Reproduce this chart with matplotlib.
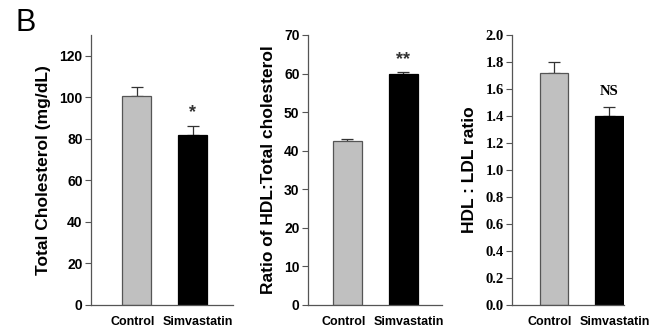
import numpy as np
import matplotlib
matplotlib.use("Agg")
import matplotlib.pyplot as plt

# data
groups = ["Control", "Simvastatin"]
total_chol = [100.5, 82.0]
total_chol_err = [4.5, 4.0]
hdl_ratio = [42.5, 60.0]
hdl_ratio_err = [0.4, 0.3]
hdl_ldl = [1.72, 1.40]
hdl_ldl_err = [0.08, 0.07]
marks = ["*", "**", "NS"]

bar_colors = ["#c0c0c0", "#000000"]
edge_colors = ["#555555", "#000000"]

plt.rcParams["font.family"] = ["Liberation Sans", "DejaVu Sans"]
plt.rcParams["font.weight"] = "bold"

fig = plt.figure(figsize=(6.55, 3.3), dpi=100)

bottom, height = 0.076, 0.818
ax1 = fig.add_axes([0.139, bottom, 0.217, height])
ax2 = fig.add_axes([0.470, bottom, 0.205, height])
ax3 = fig.add_axes([0.782, bottom, 0.171, height])

panels = [
    (ax1, total_chol, total_chol_err, "Total Cholesterol (mg/dL)", (0, 130), np.arange(0, 121, 20), (-0.81, 1.72), "%d"),
    (ax2, hdl_ratio, hdl_ratio_err, "Ratio of HDL:Total cholesterol", (0, 70), np.arange(0, 71, 10), (-0.705, 1.69), "%d"),
    (ax3, hdl_ldl, hdl_ldl_err, "HDL : LDL ratio", (0, 2.0), np.arange(0, 2.01, 0.2), (-0.76, 1.27), "%.1f"),
]

# small horizontal shifts (points) so the two group names don't touch
label_shift = [-3, 4]

x = np.arange(len(groups))
for i, (ax, vals, errs, ylab, ylim, yt, xlim, fmt) in enumerate(panels):
    width = 0.52 if i < 2 else 0.51
    ax.bar(x, vals, width=width, color=bar_colors, edgecolor=edge_colors, linewidth=0.9, zorder=2)
    ax.errorbar(x, vals, yerr=[[0, 0], errs], fmt="none", ecolor="#333333",
                elinewidth=0.9, capsize=4, capthick=0.9, zorder=1)
    ax.set_ylim(*ylim)
    ax.set_xlim(*xlim)
    ax.set_yticks(yt)
    ax.set_yticklabels([fmt % v for v in yt])
    ax.set_xticks([])
    for xi, g, dx in zip(x, groups, label_shift):
        ax.annotate(g, xy=(xi, 0), xycoords=("data", "axes fraction"),
                    xytext=(dx, -12), textcoords="offset points",
                    ha="center", va="center", fontsize=9, fontweight="bold",
                    annotation_clip=False)
    ax.tick_params(axis="y", direction="out", length=4, width=0.8, color="#555555", pad=2)
    for s in ["top", "right"]:
        ax.spines[s].set_visible(False)
    for s in ["left", "bottom"]:
        ax.spines[s].set_color("#555555")
        ax.spines[s].set_linewidth(0.9)
    ax.set_ylabel(ylab, fontsize=12.5, fontweight="bold", labelpad=6)
    top = vals[1] + errs[1]
    if i == 2:
        for lab in ax.get_yticklabels():
            lab.set_family(["Liberation Serif", "DejaVu Serif"])
            lab.set_fontsize(10.5)
            lab.set_fontweight("bold")
        ax.text(x[1], top + 0.06, marks[i], ha="center", va="bottom",
                fontsize=10.5, fontweight="bold", family=["Liberation Serif", "DejaVu Serif"])
    else:
        for lab in ax.get_yticklabels():
            lab.set_fontsize(10)
            lab.set_fontweight("bold")
        off = 2.5 if i == 0 else 1.0
        ax.text(x[1], top + off, marks[i], ha="center", va="bottom",
                fontsize=13, color="#333333")

fig.text(0.023, 0.975, "B", fontsize=22, fontweight="normal", ha="left", va="top")

fig.savefig("out.png", dpi=100)
